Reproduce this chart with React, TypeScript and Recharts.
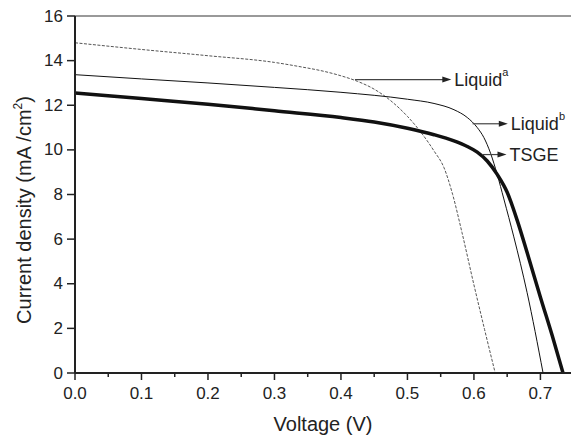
import React from "react";
import {
  LineChart,
  Line,
  XAxis,
  YAxis,
  ReferenceLine,
} from "recharts";

// Liquid^a electrolyte (fine dashed curve)
const liquidAVoltage = [0, 0.1, 0.2, 0.3, 0.34, 0.37, 0.4, 0.425, 0.45, 0.475, 0.5, 0.52, 0.54, 0.555, 0.568, 0.582, 0.6, 0.616, 0.632];
const liquidACurrent = [14.8, 14.5, 14.22, 13.92, 13.72, 13.55, 13.32, 13.07, 12.72, 12.2, 11.5, 10.8, 9.95, 9.2, 8.0, 6.3, 3.95, 1.95, 0];

// Liquid^b electrolyte (thin solid curve)
const liquidBVoltage = [0, 0.1, 0.2, 0.3, 0.4, 0.5, 0.54, 0.57, 0.59, 0.605, 0.615, 0.625, 0.635, 0.645, 0.66, 0.68, 0.704];
const liquidBCurrent = [13.37, 13.18, 13.0, 12.8, 12.58, 12.27, 12.08, 11.8, 11.45, 11.0, 10.55, 9.85, 8.9, 7.8, 6.1, 3.6, 0];

// TSGE (thick curve)
const tsgeVoltage = [0, 0.1, 0.2, 0.3, 0.4, 0.45, 0.5, 0.54, 0.57, 0.59, 0.605, 0.62, 0.635, 0.65, 0.665, 0.68, 0.7, 0.72, 0.734];
const tsgeCurrent = [12.55, 12.3, 12.05, 11.75, 11.45, 11.25, 10.97, 10.68, 10.4, 10.15, 9.9, 9.5, 8.9, 8.1, 6.85, 5.4, 3.4, 1.45, 0];

const xTicks = [0, 0.05, 0.1, 0.15, 0.2, 0.25, 0.3, 0.35, 0.4, 0.45, 0.5, 0.55, 0.6, 0.65, 0.7];
const yTicks = [0, 1, 2, 3, 4, 5, 6, 7, 8, 9, 10, 11, 12, 13, 14, 15, 16];

const zip = (v: number[], j: number[]) => v.map((x, i) => ({ v: x, j: j[i] }));

const liquidA = zip(liquidAVoltage, liquidACurrent);
const liquidB = zip(liquidBVoltage, liquidBCurrent);
const tsge = zip(tsgeVoltage, tsgeCurrent);

const FONT = "'Liberation Sans', Arial, sans-serif";
const INK = "#222";

const XTick = ({ x, y, payload }: any) => {
  const major = Math.round(payload.value * 100) % 10 === 0;
  return (
    <g>
      <line x1={x} y1={y} x2={x} y2={y + (major ? 7 : 4)} stroke={INK} strokeWidth={1.5} />
      {major && (
        <text x={x} y={y + 20} textAnchor="middle" dominantBaseline="central" fontSize={17} fontFamily={FONT} fill={INK}>
          {payload.value.toFixed(1)}
        </text>
      )}
    </g>
  );
};

const YTick = ({ x, y, payload }: any) => {
  const major = payload.value % 2 === 0;
  return (
    <g>
      <line x1={x} y1={y} x2={x - (major ? 8 : 4)} y2={y} stroke={INK} strokeWidth={1.5} />
      {major && (
        <text x={x - 12} y={y} textAnchor="end" dominantBaseline="central" fontSize={17} fontFamily={FONT} fill={INK}>
          {payload.value}
        </text>
      )}
    </g>
  );
};

const YTitle = () => (
  <text transform="translate(31,210) rotate(-90)" textAnchor="middle" fontSize={20} fontFamily={FONT} fill={INK}>
    Current density (mA /cm
    <tspan fontSize={12} dy={-9}>2</tspan>
    <tspan dy={9}>)</tspan>
  </text>
);

// arrow + label drawn from the reference segment's pixel ends
const arrow = (label: string, sup?: string) => (p: any) => {
  const { x1, y1, x2, y2 } = p;
  return (
    <g>
      <line x1={x1} y1={y1} x2={x2 - 6} y2={y2} stroke="#444" strokeWidth={1.2} />
      <polygon points={`${x2},${y2} ${x2 - 9},${y2 - 3} ${x2 - 9},${y2 + 3}`} fill={INK} />
      <text x={x2 + 3} y={y2} dominantBaseline="central" fontSize={18} fontFamily={FONT} fill={INK}>
        {label}
        {sup && (
          <tspan fontSize={11} dy={-8}>
            {sup}
          </tspan>
        )}
      </text>
    </g>
  );
};

export default function App() {
  return (
    <div style={{ position: "absolute", left: 0, top: 0 }}>
      <LineChart width={571} height={436} margin={{ top: 16, right: 0, bottom: 0, left: 0 }}>
        <XAxis
          type="number"
          dataKey="v"
          domain={[0, 0.746]}
          ticks={xTicks}
          allowDataOverflow
          height={63}
          tickSize={0}
          tickMargin={0}
          tickLine={false}
          tick={<XTick />}
          stroke={INK}
          strokeWidth={2}
          label={{ value: "Voltage (V)", position: "insideBottom", offset: 5, fontSize: 20, fontFamily: FONT, fill: INK }}
        />
        <YAxis
          type="number"
          dataKey="j"
          domain={[0, 16]}
          ticks={yTicks}
          allowDataOverflow
          width={75}
          tickSize={0}
          tickMargin={0}
          tickLine={false}
          tick={<YTick />}
          stroke={INK}
          strokeWidth={2}
          label={<YTitle />}
        />
        <ReferenceLine y={16} stroke="#777" strokeWidth={1.5} />
        <Line data={liquidA} dataKey="j" type="monotone" stroke="#555" strokeWidth={1} strokeDasharray="3 1.5" dot={false} isAnimationActive={false} />
        <Line data={liquidB} dataKey="j" type="monotone" stroke="#111" strokeWidth={1} dot={false} isAnimationActive={false} />
        <Line data={tsge} dataKey="j" type="monotone" stroke="#111" strokeWidth={3.5} dot={false} isAnimationActive={false} />
        <ReferenceLine segment={[{ x: 0.421, y: 13.15 }, { x: 0.566, y: 13.15 }]} shape={arrow("Liquid", "a")} />
        <ReferenceLine segment={[{ x: 0.598, y: 11.17 }, { x: 0.651, y: 11.17 }]} shape={arrow("Liquid", "b")} />
        <ReferenceLine segment={[{ x: 0.612, y: 9.79 }, { x: 0.649, y: 9.79 }]} shape={arrow("TSGE")} />
      </LineChart>
    </div>
  );
}
